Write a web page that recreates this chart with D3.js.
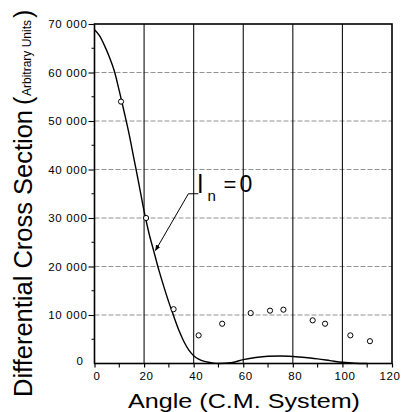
<!DOCTYPE html>
<html><head><meta charset="utf-8">
<script src="https://cdn.jsdelivr.net/npm/d3@7"></script>
<style>body{margin:0;background:#fff}svg{display:block}</style>
</head><body><svg id="c" width="401" height="412"></svg>
<script>
// ---- data ----
const curveAngles = [0,2,4,6,8,10,12,14,16,18,20,22,24,26,28,30,32,34,36,38,40,42,44,46,48,50,55,60,65,70,75,80,85,90,95,100,105,110];
const curveValues = [68800,67600,65600,63200,60300,56200,51800,47200,42000,36800,31400,26800,23000,19200,15800,12600,9700,6900,4600,2800,1600,900,500,250,80,0,150,800,1250,1500,1550,1450,1250,950,600,250,50,0];
const pointAngles = [10.7,20.8,31.9,42,51.5,63,70.8,76.2,88,93,103.2,111.1];
const pointValues = [54000,30000,11200,5800,8200,10400,10900,11100,8900,8200,5800,4600];
const xTicks = [0,20,40,60,80,100,120];
const xTickLabels = ["0","20","40","60","80","100","120"];
const xMinorTicks = [10,30,50,70,90,110];
const yTicks = [0,10000,20000,30000,40000,50000,60000,70000];
const yTickLabels = ["0","10 000","20 000","30 000","40 000","50 000","60 000","70 000"];
const yMinorTicks = [5000,15000,25000,35000,45000,55000,65000];
const curveLabel = {angle: 41.9, value: 35000};
const arrowTip = {angle: 24.6, value: 23300};

// ---- layout ----
const svg = d3.select("#c");
const x = d3.scaleLinear().domain([0,120]).range([94.5,392]);
const y = d3.scaleLinear().domain([0,70000]).range([363.5,24]);
const font = "'Liberation Sans', Arial, sans-serif";

// horizontal grid (dashed, light)
svg.append("g").selectAll("line").data(yTicks.filter(d=>d>0 && d<70000)).join("line")
  .attr("x1", x(0)).attr("x2", x(120)).attr("y1", d=>y(d)).attr("y2", d=>y(d))
  .attr("stroke", "#777").attr("stroke-width", 0.8).attr("stroke-dasharray", "5,2");
// vertical grid (solid)
svg.append("g").selectAll("line").data(xTicks.filter(d=>d>0 && d<120)).join("line")
  .attr("x1", d=>x(d)).attr("x2", d=>x(d)).attr("y1", y(70000)).attr("y2", y(0))
  .attr("stroke", "#111").attr("stroke-width", 1.1);

// frame
svg.append("rect").attr("x", x(0)).attr("y", y(70000)).attr("width", x(120)-x(0)).attr("height", y(0)-y(70000))
  .attr("fill","none").attr("stroke","#000").attr("stroke-width",1.6);

// x axis ticks
const xAxis = d3.axisBottom(x).tickValues(xTicks).tickSize(4).tickFormat((d,i)=>xTickLabels[i]).tickPadding(4);
const gx = svg.append("g").attr("transform", `translate(0,${y(0)})`).call(xAxis);
gx.select(".domain").remove();
gx.selectAll("line").attr("stroke","#000").attr("stroke-width",1.2);
gx.selectAll("text").attr("font-family",font).attr("font-size",11.5).attr("fill","#000").attr("dx", 2).attr("letter-spacing", 0.6);
gx.selectAll(".tick").filter(d=>d===120).select("text").attr("text-anchor","end").attr("dx", 8);
svg.append("g").selectAll("line").data(xMinorTicks).join("line")
  .attr("x1", d=>x(d)).attr("x2", d=>x(d)).attr("y1", y(0)).attr("y2", y(0)+4)
  .attr("stroke","#000").attr("stroke-width",1.1);

// y axis ticks
const yAxis = d3.axisLeft(y).tickValues(yTicks).tickSize(6).tickFormat((d,i)=>yTickLabels[i]).tickPadding(1);
const gy = svg.append("g").attr("transform", `translate(${x(0)},0)`).call(yAxis);
gy.select(".domain").remove();
gy.selectAll("line").attr("stroke","#000").attr("stroke-width",1.1);
gy.selectAll("text").attr("font-family",font).attr("font-size",11.5).attr("fill","#000").attr("letter-spacing", 0.7);
gy.selectAll(".tick").filter(d=>d===0).select("line").remove();
gy.selectAll(".tick").filter(d=>d===0).select("text").attr("dx", -4).attr("dy", "0.05em");
svg.append("g").selectAll("line").data(yMinorTicks).join("line")
  .attr("x1", x(0)-3).attr("x2", x(0)).attr("y1", d=>y(d)).attr("y2", d=>y(d))
  .attr("stroke","#000").attr("stroke-width",1);

// theoretical curve
const curveData = curveAngles.map((a,i)=>[a,curveValues[i]]);
svg.append("path").datum(curveData)
  .attr("d", d3.line().x(d=>x(d[0])).y(d=>y(d[1])).curve(d3.curveMonotoneX))
  .attr("fill","none").attr("stroke","#000").attr("stroke-width",1.4);

// data points
svg.append("g").selectAll("circle").data(pointAngles.map((a,i)=>[a,pointValues[i]])).join("circle")
  .attr("cx", d=>x(d[0])).attr("cy", d=>y(d[1])).attr("r", 2.6)
  .attr("fill","#fff").attr("stroke","#000").attr("stroke-width",1);

// annotation: l_n = 0 with leader arrow
svg.append("defs").append("marker").attr("id","ah").attr("viewBox","0 0 10 10")
  .attr("refX",9).attr("refY",5).attr("markerWidth",6).attr("markerHeight",6).attr("orient","auto")
  .append("path").attr("d","M0,1 L10,5 L0,9 Z").attr("fill","#000");
const lx = x(curveLabel.angle), ly = y(curveLabel.value);
svg.append("path")
  .attr("d", `M${lx},${ly} L${lx-10},${ly} L${x(arrowTip.angle)},${y(arrowTip.value)}`)
  .attr("fill","none").attr("stroke","#000").attr("stroke-width",1).attr("marker-end","url(#ah)");
const lab = svg.append("text").attr("font-family",font).attr("fill","#000");
lab.append("tspan").attr("x", lx-1).attr("y", ly-1).attr("font-size",25).text("l");
lab.append("tspan").attr("x", lx+9).attr("y", ly+7).attr("font-size",15).text("n");
lab.append("tspan").attr("x", lx+25).attr("y", ly-2).attr("font-size",22).text("=");
lab.append("tspan").attr("x", lx+41).attr("y", ly-2).attr("font-size",23).text("0");

// axis titles
svg.append("text").attr("x", 128).attr("y", 408).attr("font-family",font).attr("font-size",21)
  .attr("textLength", 232).attr("lengthAdjust","spacingAndGlyphs").attr("fill","#000")
  .text("Angle (C.M. System)");
const yt = svg.append("g").attr("transform","translate(32,397) rotate(-90)");
yt.append("text").attr("x",0).attr("y",0).attr("font-family",font).attr("font-size",25)
  .attr("textLength",287).attr("lengthAdjust","spacingAndGlyphs").attr("fill","#000")
  .text("Differential Cross Section");
yt.append("text").attr("x",292).attr("y",0).attr("font-family",font).attr("font-size",25).attr("fill","#000").text("(");
yt.append("text").attr("x",301).attr("y",-1).attr("font-family",font).attr("font-size",12.5)
  .attr("textLength",76).attr("lengthAdjust","spacingAndGlyphs").attr("fill","#000").text("Arbitrary Units");
yt.append("text").attr("x",379).attr("y",0).attr("font-family",font).attr("font-size",25).attr("fill","#000").text(")");
</script></body></html>
